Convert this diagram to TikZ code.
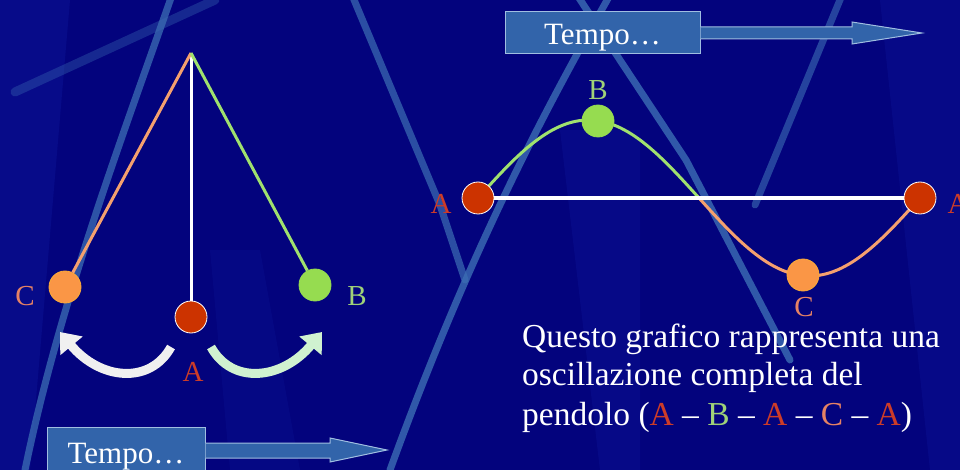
\documentclass[tikz,border=0pt]{standalone}
\usepackage{fontspec}
\setmainfont{Liberation Serif}
\usetikzlibrary{arrows.meta}
\definecolor{bg}{RGB}{3,3,125}
\definecolor{bgl}{RGB}{12,20,150}
\definecolor{streak}{RGB}{60,110,180}
\definecolor{ballred}{RGB}{204,51,0}
\definecolor{ballorange}{RGB}{250,150,70}
\definecolor{ballgreen}{RGB}{150,220,80}
\definecolor{lineorange}{RGB}{245,160,110}
\definecolor{linegreen}{RGB}{160,225,110}
\definecolor{labred}{RGB}{205,60,40}
\definecolor{labgreen}{RGB}{160,210,120}
\definecolor{laborange}{RGB}{230,130,100}
\definecolor{boxblue}{RGB}{50,100,170}
\definecolor{boxedge}{RGB}{160,190,225}
\begin{document}
\begin{tikzpicture}[x=1pt,y=-1pt,
  ball/.style={circle,minimum size=32pt,inner sep=0pt,draw=white,line width=0.8pt},
  lab/.style={font=\fontsize{29}{29}\selectfont,inner sep=0pt},
  body/.style={font=\fontsize{33.5}{40}\selectfont,text=white,anchor=base west,inner sep=0pt},
  tempobox/.style={draw=boxedge,fill=boxblue,line width=1pt,text=white,font=\fontsize{31}{31}\selectfont,inner sep=0pt,text depth=0pt},
  arrowbody/.style={draw=boxedge,fill=boxblue,line width=1pt},
  streakline/.style={draw=streak,line width=7pt,line cap=round},
  curvarrow/.style={line width=9pt,-{Triangle[length=18pt,width=28pt]}},
]
\useasboundingbox (0,0) rectangle (960,470);
\clip (0,0) rectangle (960,470);
% background
\fill[bg] (0,0) rectangle (960,470);
\fill[bgl,opacity=0.5] (0,0) -- (70,0) -- (30,470) -- (0,470) -- cycle;
\fill[bgl,opacity=0.4] (560,130) -- (640,130) -- (640,470) -- (600,470) -- cycle;
\fill[bgl,opacity=0.4] (880,0) -- (960,0) -- (960,470) -- (930,470) -- cycle;
\fill[bgl,opacity=0.3] (210,250) -- (260,250) -- (300,470) -- (230,470) -- cycle;
% streaks
\draw[streakline,opacity=0.35,line width=9pt] (15,92) -- (215,0);
\draw[streakline,opacity=0.75] (172,-5) .. controls (125,130) and (60,300) .. (25,470);
\draw[streakline,opacity=0.7] (352,-5) -- (440,205) -- (465,280);
\draw[streakline,opacity=0.8] (610,-5) .. controls (545,110) and (470,250) .. (390,470);
\draw[streakline,opacity=0.8] (577,-5) -- (686,160) -- (790,360);
\draw[streakline,opacity=0.6] (842,-5) -- (755,205);
% pendulum
\coordinate (pivot) at (191,53);
\node[ball,fill=ballred] (pA) at (191,317) {};
\node[ball,fill=ballorange,draw=ballorange!80!yellow] (pC) at (65,287) {};
\node[ball,fill=ballgreen,draw=ballgreen] (pB) at (315,285) {};
\draw[white,line width=3pt] (pivot) -- (pA);
\draw[lineorange,line width=3pt] (pivot) -- (pC);
\draw[linegreen,line width=3pt] (pivot) -- (pB);
\node[lab,text=laborange] (lC) at (25,296) {C};
\node[lab,text=labgreen] (lB) at (357,296) {B};
\node[lab,text=labred] (lA) at (193,372) {A};
\draw[curvarrow,white!88!gray] ([shift={(-20,30)}]pA.center) .. controls (150,385) and (100,380) .. (60,332);
\draw[curvarrow,white!85!green!90!gray] ([shift={(20,30)}]pA.center) .. controls (232,385) and (282,380) .. (322,332);
% graph
\draw[linegreen,line width=3pt] plot[domain=478:699,samples=60] (\x,{198-78*sin((\x-478)/442*360)});
\draw[lineorange,line width=3pt] plot[domain=699:920,samples=60] (\x,{198-78*sin((\x-478)/442*360)});
\node[ball,fill=ballred] (gA1) at (478,198) {};
\node[ball,fill=ballred] (gA2) at (920,198) {};
\node[ball,fill=ballgreen,draw=ballgreen] (gB) at (598,121) {};
\node[ball,fill=ballorange,draw=ballorange!80!yellow] (gC) at (803,275) {};
\draw[white,line width=3.5pt] (gA1) -- (gA2);
\node[lab,text=labred] (gA1l) at (441,204) {A};
\node[lab,text=labred] (gA2l) at (958,204) {A};
\node[lab,text=labgreen] (gBl) at (598,90) {B};
\node[lab,text=laborange] (gCl) at (804,307) {C};
% text
\node[body] (t1) at (522,347) {Questo grafico rappresenta una};
\node[body] (t2) at (522,385) {oscillazione completa del};
\node[body] (t3) at (522,425) {pendolo (\textcolor{labred}{A} – \textcolor{labgreen}{B} – \textcolor{labred}{A} – \textcolor{laborange}{C} – \textcolor{labred}{A})};
% tempo arrows
\node[tempobox,minimum width=195pt,minimum height=42pt,text height=24pt] (tt) at (602.5,33) {Tempo…};
\draw[arrowbody] ([yshift=6pt]tt.east) -- (852,27) -- (852,22) -- (922,33) -- (852,44) -- (852,39) -- ([yshift=-6pt]tt.east);
\node[tempobox,minimum width=158pt,minimum height=60pt,text height=12pt] (tb) at (126,457) {Tempo…};
\draw[arrowbody] ([yshift=14pt]tb.east) -- (330,443) -- (330,438) -- (387,450) -- (330,462) -- (330,458) -- ([yshift=-1pt]tb.east);
\end{tikzpicture}
\end{document}
